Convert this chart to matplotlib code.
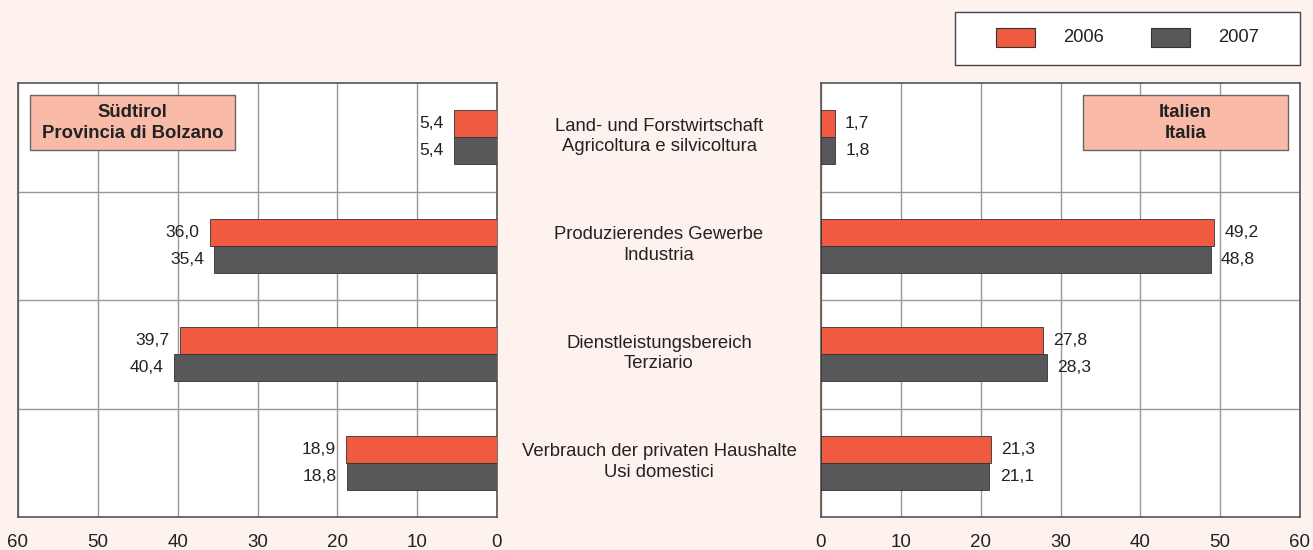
import matplotlib.pyplot as plt
import numpy as np
from matplotlib.patches import Rectangle

plt.rcParams['font.family'] = ['Liberation Sans', 'DejaVu Sans']

# data
categories = ["Land- und Forstwirtschaft\nAgricoltura e silvicoltura",
              "Produzierendes Gewerbe\nIndustria",
              "Dienstleistungsbereich\nTerziario",
              "Verbrauch der privaten Haushalte\nUsi domestici"]
bz_2006 = [5.4, 36.0, 39.7, 18.9]
bz_2007 = [5.4, 35.4, 40.4, 18.8]
it_2006 = [1.7, 49.2, 27.8, 21.3]
it_2007 = [1.8, 48.8, 28.3, 21.1]
ticks = [0, 10, 20, 30, 40, 50, 60]
years = ["2006", "2007"]

bg = "#fdf2ee"
red = "#f05a40"
grey = "#58585a"
boxcol = "#f9bba8"
W, H = 1313, 550

fig = plt.figure(figsize=(13.13, 5.5), dpi=100, facecolor=bg)
ax1 = fig.add_axes([18/W, 1-517/H, 479/W, 434/H])
ax2 = fig.add_axes([821/W, 1-517/H, 479/W, 434/H])

y = np.arange(len(categories))
h = 0.25

def fmt(v):
    return f"{v:.1f}".replace(".", ",")

def px_rect(x0, y0, x1, y1, **kw):
    # rectangle given in pixel coords (top-left origin)
    r = Rectangle((x0/W, 1-y1/H), (x1-x0)/W, (y1-y0)/H, transform=fig.transFigure, **kw)
    fig.patches.append(r)

for ax, d6, d7, left in [(ax1, bz_2006, bz_2007, True), (ax2, it_2006, it_2007, False)]:
    ax.set_facecolor("white")
    ax.barh(y - h/2, d6, height=h, color=red, edgecolor="#333333", linewidth=0.6, zorder=3)
    ax.barh(y + h/2, d7, height=h, color=grey, edgecolor="#333333", linewidth=0.6, zorder=3)
    for i in range(len(y)):
        for v, yy in [(d6[i], y[i] - h/2), (d7[i], y[i] + h/2)]:
            ax.text(v + 1.3, yy, fmt(v), ha="right" if left else "left", va="center",
                    fontsize=12.6, color="#222222")
    ax.set_xlim(0, 60)
    if left:
        ax.invert_xaxis()
    ax.set_ylim(len(y) - 0.5, -0.5)
    ax.set_xticks(ticks)
    ax.set_xticklabels([str(t) for t in ticks], fontsize=13.5, color="#222222")
    ax.set_yticks([])
    ax.set_yticks(np.arange(0.5, len(y) - 0.5, 1), minor=True)
    ax.tick_params(axis="x", length=0, pad=12.5)
    ax.tick_params(axis="y", which="minor", length=0)
    ax.grid(True, axis="x", color="#999999", linewidth=1, zorder=0)
    ax.grid(True, axis="y", which="minor", color="#999999", linewidth=1, zorder=0)
    for s in ax.spines.values():
        s.set_color("#555555")
        s.set_linewidth(1.2)

# category labels in the middle
for i, c in enumerate(categories):
    yy = 1 - (83 + 108.5 * i + 53.5) / H
    fig.text(659/W, yy, c, ha="center", va="center", fontsize=13.3, color="#222222", linespacing=1.3)

# region boxes
px_rect(30, 95, 235, 150, facecolor=boxcol, edgecolor="#666666", linewidth=1, zorder=5)
fig.text(132.5/W, 1 - 123/H, "Südtirol\nProvincia di Bolzano", ha="center", va="center",
         fontsize=13.3, fontweight="bold", color="#222222", linespacing=1.3, zorder=6)
px_rect(1083, 95, 1288, 150, facecolor=boxcol, edgecolor="#666666", linewidth=1, zorder=5)
fig.text(1185.5/W, 1 - 123/H, "Italien\nItalia", ha="center", va="center",
         fontsize=13.3, fontweight="bold", color="#222222", linespacing=1.3, zorder=6)

# legend drawn by hand
px_rect(955, 12, 1300, 65, facecolor="white", edgecolor="#444444", linewidth=1)
for col, lab, x0 in [(red, years[0], 996), (grey, years[1], 1151)]:
    px_rect(x0, 28, x0 + 39, 47, facecolor=col, edgecolor="#333333", linewidth=0.8)
    fig.text((x0 + 67)/W, 1 - 38/H, lab, ha="left", va="center", fontsize=13.2, color="#222222")

plt.savefig("out.png", dpi=100, facecolor=bg)
